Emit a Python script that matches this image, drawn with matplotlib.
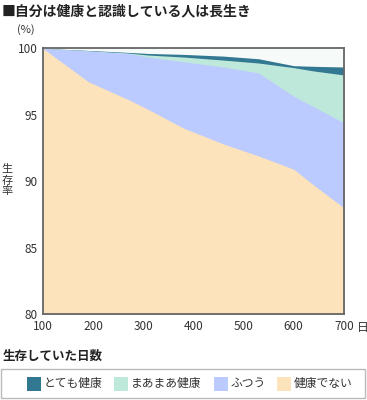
import matplotlib.pyplot as plt
from matplotlib.patches import Rectangle

plt.rcParams['font.family'] = ['Noto Sans CJK JP', 'DejaVu Sans']

# days survived
days = [100, 190, 270, 310, 380, 460, 530, 600, 640, 700]
# cumulative survival (%) boundaries
top_very = [100, 99.85, 99.7, 99.62, 99.55, 99.42, 99.22, 98.7, 98.65, 98.6]
top_fair = [100, 99.82, 99.65, 99.5, 99.35, 99.12, 98.9, 98.55, 98.3, 98.0]
top_normal = [100, 99.8, 99.62, 99.35, 99.0, 98.6, 98.15, 96.4, 95.6, 94.4]
top_unhealthy = [100, 97.5, 96.15, 95.4, 94.0, 92.8, 91.9, 90.9, 89.7, 88.0]

labels = ['とても健康', 'まあまあ健康', 'ふつう', '健康でない']
colors = ['#337892', '#bde8da', '#bccbff', '#fde3bc']
x_ticks = [100, 200, 300, 400, 500, 600, 700]
y_ticks = [80, 85, 90, 95, 100]

fig = plt.figure(figsize=(3.67, 4.0), dpi=100)
ax = fig.add_axes([0.117, 0.215, 0.82, 0.664])
ax.set_facecolor('#f6faf9')

for top, c in zip([top_very, top_fair, top_normal, top_unhealthy], colors):
    ax.fill_between(days, 80, top, color=c, lw=0)

ax.set_xlim(100, 700)
ax.set_ylim(80, 100)
ax.set_xticks(x_ticks)
ax.set_yticks(y_ticks)
ax.tick_params(length=0, labelsize=8.5, colors='#333333', pad=4)
for s in ax.spines.values():
    s.set_color('#666666')
    s.set_linewidth(1.3)

fig.text(0.005, 0.99, '■自分は健康と認識している人は長生き', fontsize=10,
         fontweight='bold', va='top', ha='left', color='#222222')
fig.text(0.045, 0.925, '(%)', fontsize=8, va='center', ha='left', color='#333333')
fig.text(0.019, 0.549, '生\n存\n率', fontsize=8, va='center', ha='center',
         linespacing=1.1, color='#333333')
fig.text(0.972, 0.18, '日', fontsize=8.5, va='center', ha='left', color='#333333')
fig.text(0.008, 0.108, '生存していた日数', fontsize=9, fontweight='bold',
         va='center', ha='left', color='#222222')

# legend box
fig.patches.append(Rectangle((0.003, 0.005), 0.992, 0.073, transform=fig.transFigure,
                             fill=False, ec='#bbbbbb', lw=1))
sq_x = [0.073, 0.31, 0.583, 0.755]
for lx, lab, c in zip(sq_x, labels, colors):
    fig.patches.append(Rectangle((lx, 0.023), 0.038, 0.035, transform=fig.transFigure,
                                 fc=c, ec='none'))
    fig.text(lx + 0.046, 0.041, lab, fontsize=8.5, va='center', ha='left', color='#333333')

fig.savefig('out.png', dpi=100)
